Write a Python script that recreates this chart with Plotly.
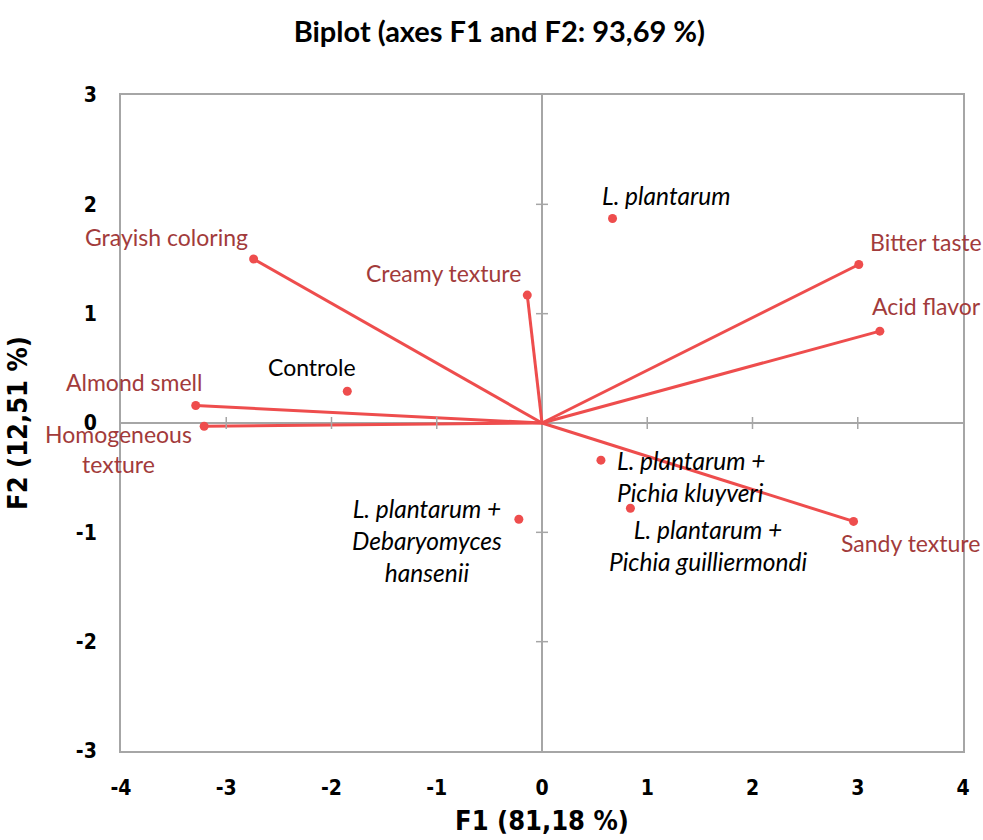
import plotly.graph_objects as go

# Active variables (loadings projected on F1/F2)
var_names = ["Grayish coloring", "Creamy texture", "Bitter taste", "Acid flavor",
             "Sandy texture", "Almond smell", "Homogeneous<br>texture"]
var_f1 = [-2.74, -0.14, 3.01, 3.21, 2.96, -3.29, -3.21]
var_f2 = [1.50, 1.17, 1.45, 0.84, -0.90, 0.16, -0.03]

# Observations (fermentation treatments)
obs_names = ["Controle", "<i>L. plantarum</i>",
             "<i>L. plantarum +<br>Pichia kluyveri</i>",
             "<i>L. plantarum +<br>Pichia guilliermondi</i>",
             "<i>L. plantarum +<br>Debaryomyces<br>hansenii</i>"]
obs_f1 = [-1.85, 0.67, 0.56, 0.84, -0.22]
obs_f2 = [0.29, 1.87, -0.34, -0.78, -0.88]

x_ticks = [-4, -3, -2, -1, 0, 1, 2, 3, 4]
y_ticks = [-3, -2, -1, 0, 1, 2, 3]
x_tick_text = ["-4", "-3", "-2", "-1", "0", "1", "2", "3", "4"]
y_tick_text = ["-3", "-2", "-1", "0", "1", "2", "3"]

# label placement in pixels (dx, dy, anchor, font size) relative to each marker
var_offsets = [(-87, -22, "center"), (-84, -22, "center"), (67, -22, "center"),
               (47, -25, "center"), (57, 22, "center"), (-62, -24, "center"),
               (-86, 23, "center")]
obs_offsets = [(-35, -24, "center", 23), (54, -23, "center", 24.5),
               (14, 16, "left", 24.5), (78, 37, "center", 24.5),
               (-92, 21, "center", 24.5)]

RED = "#ee4d4d"
DARK_RED = "#a23b3b"
GRAY = "#a6a6a6"
LABEL_FONT = "Lato, Open Sans, sans-serif"
NARROW = "DejaVu Sans Condensed, Liberation Sans Narrow, DejaVu Sans, sans-serif"

fig = go.Figure()

# vectors from the origin to each variable
lx, ly = [], []
for a, b in zip(var_f1, var_f2):
    lx += [0, a, None]
    ly += [0, b, None]
fig.add_trace(go.Scatter(x=lx, y=ly, mode="lines",
                         line=dict(color=RED, width=3), hoverinfo="skip"))
fig.add_trace(go.Scatter(x=var_f1, y=var_f2, mode="markers",
                         marker=dict(color=RED, size=9), text=var_names,
                         hoverinfo="text"))
fig.add_trace(go.Scatter(x=obs_f1, y=obs_f2, mode="markers",
                         marker=dict(color=RED, size=9), text=obs_names,
                         hoverinfo="text"))

for name, a, b, (dx, dy, anc) in zip(var_names, var_f1, var_f2, var_offsets):
    fig.add_annotation(x=a, y=b, text=name, showarrow=False, xshift=dx, yshift=-dy,
                       xanchor=anc, align="center",
                       font=dict(family=LABEL_FONT, size=23, color=DARK_RED))
for name, a, b, (dx, dy, anc, fs) in zip(obs_names, obs_f1, obs_f2, obs_offsets):
    fig.add_annotation(x=a, y=b, text=name, showarrow=False, xshift=dx, yshift=-dy,
                       xanchor=anc, align="left" if anc == "left" else "center",
                       font=dict(family=LABEL_FONT, size=fs, color="black"))

# small tick marks crossing the central axes
for t in x_ticks:
    if t in (0, -4, 4):
        continue
    fig.add_shape(type="line", xref="x", yref="y", ysizemode="pixel", yanchor=0,
                  x0=t, x1=t, y0=-6, y1=6, line=dict(color=GRAY, width=1.5))
for t in y_ticks:
    if t in (0, -3, 3):
        continue
    fig.add_shape(type="line", xref="x", yref="y", xsizemode="pixel", xanchor=0,
                  x0=-6, x1=6, y0=t, y1=t, line=dict(color=GRAY, width=1.5))

fig.update_layout(
    width=983, height=840,
    margin=dict(l=121, r=20, t=95, b=89),
    paper_bgcolor="white", plot_bgcolor="white",
    showlegend=False,
    title=dict(text="<b>Biplot (axes F1 and F2: 93,69 %)</b>", x=0.508, xanchor="center",
               y=0.962, yanchor="middle",
               font=dict(family=LABEL_FONT, size=29, color="black")),
)
fig.update_xaxes(range=[-4, 4], tickvals=x_ticks, ticktext=x_tick_text, showgrid=False,
                 automargin=False,
                 zeroline=True, zerolinecolor=GRAY, zerolinewidth=1.5,
                 showline=True, mirror=True, linecolor=GRAY, linewidth=2,
                 ticks="outside", ticklen=17, tickcolor="rgba(0,0,0,0)",
                 tickfont=dict(family=NARROW, size=21, color="black", weight="bold"),
                 title=dict(text="<b>F1 (81,18 %)</b>", standoff=12,
                            font=dict(family=NARROW, size=27, color="black")))
fig.update_yaxes(range=[-3, 3], tickvals=y_ticks, ticktext=y_tick_text, showgrid=False,
                 automargin=False,
                 zeroline=True, zerolinecolor=GRAY, zerolinewidth=1.5,
                 showline=True, mirror=True, linecolor=GRAY, linewidth=2,
                 ticks="outside", ticklen=18, tickcolor="rgba(0,0,0,0)",
                 tickfont=dict(family=NARROW, size=21, color="black", weight="bold"),
                 title=dict(text="<b>F2 (12,51 %)</b>", standoff=40,
                            font=dict(family=NARROW, size=27, color="black")))

fig.write_html("out.html")
